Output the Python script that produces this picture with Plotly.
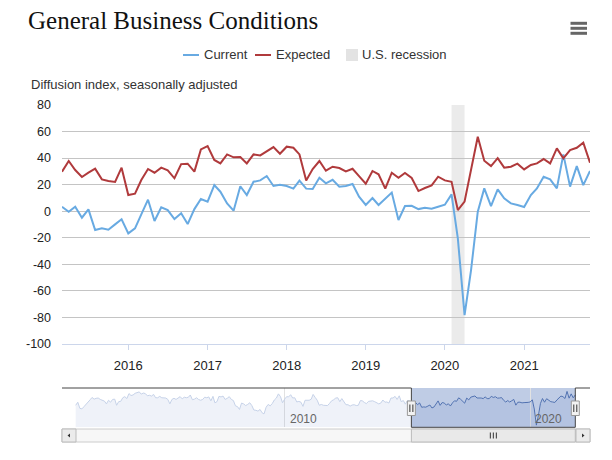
import plotly.graph_objects as go
import pandas as pd

# ---------------- data ----------------
main_start = "2015-03-01"
main_end = "2021-11-01"
months = pd.date_range(main_start, main_end, freq="MS")

current = [
    3.4, -0.4, 3.4, -4.9, 1.4, -14.2, -12.9, -13.9, -9.9, -6.1,
    -16.7, -12.9, -2.4, 8.7, -7.4, 2.9, 0.9, -5.9, -1.6, -9.7, 1.6, 9.2,
    7.2, 19.7, 14.7, 5.9, 0.4, 18.8, 12.2, 22.2, 23.2, 26.5, 19.0, 20.0,
    19.0, 17.0, 23.0, 17.0, 16.7, 25.2, 21.0, 23.7, 18.5, 19.0, 20.5, 10.9,
    4.7, 9.9, 4.7, 9.2, 14.0, -6.6, 3.9, 4.1, 1.6, 2.6, 1.9, 3.4,
    4.9, 12.7, -20.4, -78.2, -44.3, -0.4, 17.2, 3.9, 16.5, 9.7, 5.9, 4.7,
    3.2, 12.2, 17.2, 26.0, 24.0, 17.2, 42.8, 18.5, 34.0, 19.7, 30.3,
]
expected = [
    29.8, 37.8, 31.0, 25.8, 29.0, 32.0, 24.0, 22.7, 22.0, 32.8,
    12.2, 13.2, 23.5, 31.8, 29.0, 32.8, 30.8, 24.8, 35.5, 35.8, 29.8, 46.6,
    49.1, 38.6, 36.0, 42.8, 40.6, 40.9, 36.0, 42.8, 42.0, 45.3, 48.3, 43.3,
    48.6, 47.8, 42.8, 23.2, 31.8, 37.8, 30.5, 33.5, 32.5, 30.0, 32.0, 26.5,
    20.7, 30.3, 27.8, 17.0, 29.0, 25.2, 28.8, 25.0, 15.2, 17.5, 19.5, 26.0,
    23.2, 22.2, 0.9, 7.2, 31.0, 56.1, 38.0, 34.0, 40.0, 32.8, 33.5, 35.8,
    31.5, 34.8, 36.0, 39.3, 36.0, 47.3, 39.8, 46.0, 47.8, 51.6, 36.5,
]

# earlier history of the current index (navigator only), Jul 2001 - Feb 2015
hist_start = "2001-07-01"
hist_months = pd.date_range(hist_start, "2015-02-01", freq="MS")
hist_current = [
    -7, 4, -18, -20, -12, -3,
    8, 13, 21, 15, 18, 19, 14, 10, 8, -2, 11, 4,
    14, 15, -7, 6, 7, 20, 24, 17, 35, 28, 30, 36,
    39, 41, 33, 37, 35, 27, 29, 26, 32, 20, 20, 25,
    20, 18, 19, 14, -2, 14, 18, 14, 18, 24, 16, 22,
    20, 22, 30, 13, 15, 20, 14, 11, 14, 22, 20, 23,
    9, 25, 2, 6, 25, 23, 26, 14, 18, 24, 14, 10,
    -9, -12, -22, 1, -2, -8, -4, 2, -8, -24, -25, -28,
    -22, -34, -38, -14, -4, -9, -1, 12, 19, 34, 24, 2,
    15, 24, 23, 31, 19, 20, 5, 7, 4, -11, 11, 10,
    11, 15, 32, 21, 11, -7, -4, -7, -8, -8, 0, 9,
    13, 19, 20, 6, 17, 3, -5, -5, -10, -6, -5, -8,
    -7, 10, 9, 3, -1, 7, 9, 9, 6, 1, -2, 1,
    12, 4, 5, 1, 19, 19, 25, 14, 27, 6, 10, -3,
    10, 8,
]

recession_start = "2020-02-01"
recession_end = "2020-04-01"

year_ticks = ["2016-01-01", "2017-01-01", "2018-01-01", "2019-01-01", "2020-01-01", "2021-01-01"]
y_ticks = [80, 60, 40, 20, 0, -20, -40, -60, -80, -100]
y_tick_labels = ["80", "60", "40", "20", "0", "-20", "-40", "-60", "-80", "-100"]
nav_ticks = ["2010-01-01", "2020-01-01"]
nav_tick_labels = ["2010", "2020"]

# ---------------- layout helpers ----------------
# the page body adds an 8px margin, so the figure is laid out 8px smaller
OFF = 8
W, H = 612 - OFF, 460 - OFF
L, R, T, B = 62, 590, 105, 442   # plot-area edges in screen pixels


def px(x):
    return (x - L) / (R - L)


def py(y):
    return (B - y) / (B - T)


nav_all_x = list(hist_months) + list(months)
nav_all_y = hist_current + current
nav_min, nav_max = -86, 55

# navigator x range padded so the data sit between 75.7px and 575.3px
t0 = pd.Timestamp(hist_start)
t1 = pd.Timestamp(main_end)
span = t1 - t0
data_px = 575.3 - 75.7
r0 = t0 - span * ((75.7 - L) / data_px)
r1 = t1 + span * ((R - 575.3) / data_px)

blue = "#68aae2"
red = "#b03a3c"
font = "Liberation Sans, Arial, sans-serif"

fig = go.Figure()

fig.add_trace(go.Scatter(x=months, y=current, name="Current", mode="lines",
                         line=dict(color=blue, width=2), showlegend=False,
                         xaxis="x", yaxis="y"))
fig.add_trace(go.Scatter(x=months, y=expected, name="Expected", mode="lines",
                         line=dict(color=red, width=2), showlegend=False,
                         xaxis="x", yaxis="y"))

# navigator
fig.add_trace(go.Scatter(x=nav_all_x, y=[nav_min] * len(nav_all_x), mode="lines",
                         line=dict(width=0, color="rgba(0,0,0,0)"), hoverinfo="skip",
                         showlegend=False, xaxis="x2", yaxis="y2"))
fig.add_trace(go.Scatter(x=nav_all_x, y=nav_all_y, mode="lines", fill="tonexty",
                         fillcolor="rgba(51,92,173,0.08)",
                         line=dict(color="#c6d2e8", width=1), hoverinfo="skip",
                         showlegend=False, xaxis="x2", yaxis="y2"))
fig.add_trace(go.Scatter(x=months, y=current, mode="lines",
                         line=dict(color="#4f70b0", width=1), hoverinfo="skip",
                         showlegend=False, xaxis="x2", yaxis="y2"))

shapes = []
# recession band
shapes.append(dict(type="rect", xref="x", yref="y domain", x0=recession_start, x1=recession_end,
                   y0=0, y1=1, fillcolor="#ebebeb", line=dict(width=0), layer="below"))

# navigator mask
nav_top, nav_bot = py(388), py(427.3)
shapes.append(dict(type="rect", xref="x2", yref="paper", x0=main_start, x1=main_end,
                   y0=nav_bot, y1=nav_top, fillcolor="rgba(102,133,194,0.42)",
                   line=dict(width=0), layer="below"))
# navigator outline
oc = dict(color="#444444", width=1)
shapes += [
    dict(type="line", xref="x2", yref="paper", x0=r0, x1=main_start, y0=nav_top, y1=nav_top, line=oc),
    dict(type="line", xref="x2", yref="paper", x0=main_start, x1=main_start, y0=nav_top, y1=nav_bot, line=oc),
    dict(type="line", xref="x2", yref="paper", x0=main_start, x1=main_end, y0=nav_bot, y1=nav_bot, line=oc),
    dict(type="line", xref="x2", yref="paper", x0=main_end, x1=main_end, y0=nav_bot, y1=nav_top, line=oc),
    dict(type="line", xref="x2", yref="paper", x0=main_end, x1=r1, y0=nav_top, y1=nav_top, line=oc),
]

# scrollbar
sb_top, sb_bot = py(429), py(442)
shapes.append(dict(type="rect", xref="paper", yref="paper", x0=0, x1=1, y0=sb_bot, y1=sb_top,
                   fillcolor="#f7f7f7", line=dict(color="#cccccc", width=1)))
shapes.append(dict(type="rect", xref="x2", yref="paper", x0=main_start, x1=main_end, y0=sb_bot, y1=sb_top,
                   fillcolor="#e9e9e9", line=dict(color="#bbbbbb", width=1)))
for xa, xb in [(62, 76), (576, 590)]:
    shapes.append(dict(type="rect", xref="paper", yref="paper", x0=px(xa), x1=px(xb), y0=sb_bot, y1=sb_top,
                       fillcolor="#ebebeb", line=dict(color="#bbbbbb", width=1)))
# arrows
shapes.append(dict(type="path", xref="paper", yref="paper",
                   path=f"M {px(67.5)} {py(435.5)} L {px(70)} {py(433.5)} L {px(70)} {py(437.5)} Z",
                   fillcolor="#333333", line=dict(width=0)))
shapes.append(dict(type="path", xref="paper", yref="paper",
                   path=f"M {px(584.5)} {py(435.5)} L {px(582)} {py(433.5)} L {px(582)} {py(437.5)} Z",
                   fillcolor="#333333", line=dict(width=0)))
# thumb grip
mid = pd.Timestamp(main_start) + (pd.Timestamp(main_end) - pd.Timestamp(main_start)) / 2
for off in (-3, 0, 3):
    shapes.append(dict(type="line", xref="x2", yref="paper", xsizemode="pixel", xanchor=mid,
                       x0=off, x1=off, y0=py(438.5), y1=py(432.5), line=dict(color="#333333", width=1)))
# handles
for d in (main_start, main_end):
    shapes.append(dict(type="rect", xref="x2", yref="paper", xsizemode="pixel", xanchor=d,
                       x0=-4, x1=4, y0=py(415.5), y1=py(401), fillcolor="#f2f2f2",
                       line=dict(color="#999999", width=1)))
    for off in (-1.5, 1.5):
        shapes.append(dict(type="line", xref="x2", yref="paper", xsizemode="pixel", xanchor=d,
                           x0=off, x1=off, y0=py(412), y1=py(404.5), line=dict(color="#333333", width=1)))

# hamburger menu
for yy in (23.3, 28.3, 33.3):
    shapes.append(dict(type="line", xref="paper", yref="paper", x0=px(570.5), x1=px(587),
                       y0=py(yy), y1=py(yy), line=dict(color="#666666", width=3)))

# legend symbols
shapes.append(dict(type="line", xref="paper", yref="paper", x0=px(183), x1=px(199),
                   y0=py(55), y1=py(55), line=dict(color=blue, width=2)))
shapes.append(dict(type="line", xref="paper", yref="paper", x0=px(255), x1=px(271),
                   y0=py(55), y1=py(55), line=dict(color=red, width=2)))
shapes.append(dict(type="rect", xref="paper", yref="paper", x0=px(346), x1=px(358),
                   y0=py(61), y1=py(49), fillcolor="#e3e3e3", line=dict(width=0)))

annotations = []
lf = dict(family=font, size=13, color="#333333")
for xx, txt in [(202, "Current"), (274, "Expected"), (360, "U.S. recession")]:
    annotations.append(dict(text=txt, x=px(xx), y=py(55), xref="paper", yref="paper",
                            xanchor="left", yanchor="middle", showarrow=False, font=lf))
annotations.append(dict(text="Diffusion index, seasonally adjusted", x=px(29), y=py(85),
                        xref="paper", yref="paper", xanchor="left", yanchor="middle",
                        showarrow=False, font=dict(family=font, size=13, color="#333333")))
for d, lab in zip(nav_ticks, nav_tick_labels):
    annotations.append(dict(text=lab, x=d, y=py(419), xref="x2", yref="paper",
                            xanchor="left", yanchor="middle", xshift=3, showarrow=False,
                            font=dict(family=font, size=12, color="#666666")))

fig.update_layout(
    width=W, height=H,
    margin=dict(l=L - OFF, r=W - (R - OFF), t=T - OFF, b=H - (B - OFF), pad=0),
    paper_bgcolor="white", plot_bgcolor="white",
    title=dict(text="General Business Conditions", x=(28 - OFF) / W, xanchor="left",
               y=1 - (20 - OFF) / H, yanchor="middle", xref="container", yref="container",
               font=dict(family="Liberation Serif, Georgia, serif", size=25, color="#111111")),
    showlegend=False,
    xaxis=dict(domain=[0, 1], anchor="y", type="date", range=[main_start, main_end],
               tickvals=year_ticks, tickformat="%Y", showgrid=False, zeroline=False,
               showline=True, linecolor="#ccd6eb", linewidth=1,
               ticks="outside", ticklen=5, tickcolor="#ccd6eb", ticklabelstandoff=4,
               tickfont=dict(family=font, size=13, color="#222222")),
    yaxis=dict(domain=[py(344), 1], anchor="x", range=[-100, 80],
               tickvals=y_ticks, ticktext=y_tick_labels,
               showgrid=True, gridcolor="#c4c4c4", gridwidth=1, zeroline=False,
               showline=False, ticks="", ticklabelstandoff=10,
               tickfont=dict(family=font, size=12.5, color="#222222")),
    xaxis2=dict(domain=[0, 1], anchor="y2", type="date", range=[r0, r1],
                tickvals=nav_ticks, showticklabels=False, showgrid=True,
                gridcolor="#e2e2e2", zeroline=False, showline=False, ticks=""),
    yaxis2=dict(domain=[nav_bot, nav_top], anchor="x2", range=[nav_min, nav_max],
                showgrid=False, zeroline=False, showticklabels=False, ticks=""),
    shapes=shapes,
    annotations=annotations,
    hovermode=False,
)

fig.write_html("out.html")
